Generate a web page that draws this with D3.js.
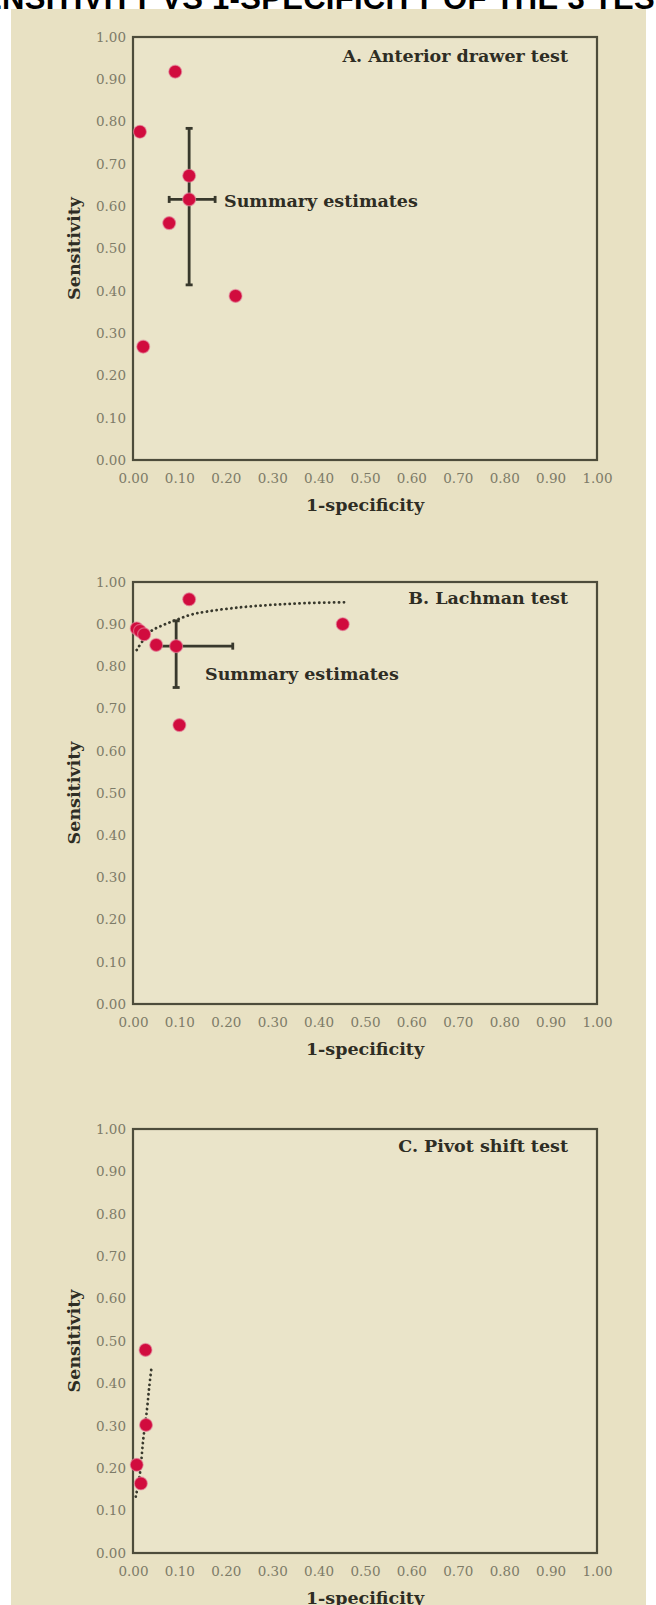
<!DOCTYPE html>
<html>
<head>
<meta charset="utf-8">
<script src="https://cdn.jsdelivr.net/npm/d3@7"></script>
<style>
  body { margin: 0; background: #fff; }
  svg { display: block; }
</style>
</head>
<body>
<div id="chart"></div>
<script>
// values
const tickValues = [0, 0.1, 0.2, 0.3, 0.4, 0.5, 0.6, 0.7, 0.8, 0.9, 1.0];

// A. Anterior drawer test
const anteriorX = [0.091, 0.015, 0.121, 0.121, 0.078, 0.221, 0.022];
const anteriorY = [0.918, 0.776, 0.672, 0.616, 0.560, 0.388, 0.268];
const anteriorSummary = [0.121, 0.616];
const anteriorSensCI = [0.414, 0.784];
const anteriorFprCI = [0.078, 0.177];

// B. Lachman test
const lachmanX = [0.121, 0.008, 0.015, 0.024, 0.050, 0.093, 0.100, 0.452];
const lachmanY = [0.959, 0.890, 0.884, 0.876, 0.851, 0.848, 0.661, 0.900];
const lachmanSummary = [0.093, 0.848];
const lachmanSensCI = [0.750, 0.908];
const lachmanFprCI = [0.045, 0.215];
const lachmanCurveX = [0.008, 0.037, 0.065, 0.093, 0.123, 0.159, 0.231, 0.302, 0.374, 0.459];
const lachmanCurveY = [0.839, 0.882, 0.898, 0.910, 0.922, 0.930, 0.940, 0.946, 0.950, 0.952];

// C. Pivot shift test
const pivotX = [0.027, 0.028, 0.008, 0.017];
const pivotY = [0.479, 0.302, 0.208, 0.164];
const pivotCurveX = [0.006, 0.015, 0.022, 0.030, 0.035, 0.040];
const pivotCurveY = [0.133, 0.188, 0.267, 0.337, 0.392, 0.439];

const COLORS = {
    bg: '#e8e1c3',
    plot: '#eae4c9',
    frame: '#4d4c3b',
    tick: '#7d7b68',
    title: '#2e2d24',
    point: '#d10c3e',
    bar: '#38382c'
};

const W = 656, H = 1605;
const left = 133, right = 597;

const panels = [
    { title: 'A. Anterior drawer test', top: 37, bottom: 460, titleDy: 19,
      xs: anteriorX, ys: anteriorY, summary: anteriorSummary,
      sensCI: anteriorSensCI, fprCI: anteriorFprCI, label: { x: 224, dy: 164 } },
    { title: 'B. Lachman test', top: 582, bottom: 1004, titleDy: 16,
      xs: lachmanX, ys: lachmanY, summary: lachmanSummary,
      sensCI: lachmanSensCI, fprCI: lachmanFprCI, label: { x: 205, dy: 92 },
      curveX: lachmanCurveX, curveY: lachmanCurveY },
    { title: 'C. Pivot shift test', top: 1129, bottom: 1553, titleDy: 17,
      xs: pivotX, ys: pivotY, curveX: pivotCurveX, curveY: pivotCurveY }
];

const svg = d3.select('#chart').append('svg')
    .attr('width', W)
    .attr('height', H);

svg.append('rect')
    .attr('x', 11).attr('y', 9)
    .attr('width', 635).attr('height', H - 9)
    .attr('fill', COLORS.bg);

// heading that the crop cuts through at the very top
const heading = 'SENSITIVITY VS 1-SPECIFICITY OF THE 3 TESTS';
const headStyle = sel => sel
    .style('font-family', '"Liberation Sans", Arial, sans-serif')
    .style('font-weight', '700')
    .style('font-size', '31px')
    .style('letter-spacing', '0.3px');
const probe = svg.append('text').call(headStyle).text('SE');
const prefixW = probe.node().getComputedTextLength();
probe.remove();
svg.append('text')
    .attr('x', 2 - prefixW)
    .attr('y', 9)
    .attr('fill', '#000')
    .call(headStyle)
    .text(heading);

const fmt = d3.format('.2f');
const serif = '"DejaVu Serif", Georgia, serif';
const boldSize = '17.5px';

function drawPanel(p) {
    const x = d3.scaleLinear().domain([0, 1]).range([left, right]);
    const y = d3.scaleLinear().domain([0, 1]).range([p.bottom, p.top]);
    const g = svg.append('g');

    g.append('rect')
        .attr('x', left).attr('y', p.top)
        .attr('width', right - left).attr('height', p.bottom - p.top)
        .attr('fill', COLORS.plot)
        .attr('stroke', COLORS.frame)
        .attr('stroke-width', 2.2);

    const xAxis = g.append('g')
        .attr('transform', `translate(0,${p.bottom})`)
        .call(d3.axisBottom(x).tickValues(tickValues).tickFormat(fmt).tickSize(0).tickPadding(13));
    const yAxis = g.append('g')
        .attr('transform', `translate(${left},0)`)
        .call(d3.axisLeft(y).tickValues(tickValues).tickFormat(fmt).tickSize(0).tickPadding(7));

    [xAxis, yAxis].forEach(a => {
        a.select('.domain').remove();
        a.selectAll('text')
            .attr('fill', COLORS.tick)
            .style('font-family', serif)
            .style('font-size', '13.5px');
    });

    // axis titles
    g.append('text')
        .attr('x', (left + right) / 2)
        .attr('y', p.bottom + 45)
        .attr('dy', '0.35em')
        .attr('text-anchor', 'middle')
        .attr('fill', COLORS.title)
        .style('font-family', serif)
        .style('font-weight', '700')
        .style('font-size', boldSize)
        .text('1-specificity');

    g.append('text')
        .attr('transform', `translate(74,${(p.top + p.bottom) / 2}) rotate(-90)`)
        .attr('text-anchor', 'middle')
        .attr('dy', '0.35em')
        .attr('fill', COLORS.title)
        .style('font-family', serif)
        .style('font-weight', '700')
        .style('font-size', boldSize)
        .text('Sensitivity');

    g.append('text')
        .attr('x', 568)
        .attr('y', p.top + p.titleDy)
        .attr('dy', '0.35em')
        .attr('text-anchor', 'end')
        .attr('fill', COLORS.title)
        .style('font-family', serif)
        .style('font-weight', '700')
        .style('font-size', boldSize)
        .text(p.title);

    // fitted curve (dotted)
    if (p.curveX) {
        const pts = p.curveX.map((v, i) => [v, p.curveY[i]]);
        const line = d3.line()
            .x(d => x(d[0]))
            .y(d => y(d[1]))
            .curve(d3.curveCatmullRom);
        g.append('path')
            .attr('d', line(pts))
            .attr('fill', 'none')
            .attr('stroke', COLORS.bar)
            .attr('stroke-width', 2.8)
            .attr('stroke-linecap', 'round')
            .attr('stroke-dasharray', '0.1,4.8');
    }

    // summary cross with confidence intervals
    if (p.summary) {
        const [sx, sy] = p.summary;
        const bar = g.append('g')
            .attr('stroke', COLORS.bar)
            .attr('stroke-width', 2.8);
        bar.append('line')
            .attr('x1', x(sx)).attr('x2', x(sx))
            .attr('y1', y(p.sensCI[0])).attr('y2', y(p.sensCI[1]));
        bar.append('line')
            .attr('x1', x(p.fprCI[0])).attr('x2', x(p.fprCI[1]))
            .attr('y1', y(sy)).attr('y2', y(sy));
        p.sensCI.forEach(v => {
            bar.append('line')
                .attr('x1', x(sx) - 3.5).attr('x2', x(sx) + 3.5)
                .attr('y1', y(v)).attr('y2', y(v));
        });
        p.fprCI.forEach(v => {
            bar.append('line')
                .attr('x1', x(v)).attr('x2', x(v))
                .attr('y1', y(sy) - 3.5).attr('y2', y(sy) + 3.5);
        });

        g.append('text')
            .attr('x', p.label.x)
            .attr('y', p.top + p.label.dy)
            .attr('dy', '0.35em')
            .attr('fill', COLORS.title)
            .style('font-family', serif)
            .style('font-weight', '700')
            .style('font-size', boldSize)
            .text('Summary estimates');
    }

    // study points
    g.selectAll('.pt')
        .data(p.xs.map((v, i) => ({ fpr: v, sens: p.ys[i] })))
        .enter()
        .append('circle')
        .attr('cx', d => x(d.fpr))
        .attr('cy', d => y(d.sens))
        .attr('r', 6.5)
        .attr('fill', COLORS.point)
        .attr('stroke', '#e58aa0')
        .attr('stroke-opacity', 0.6)
        .attr('stroke-width', 1.2);
}

panels.forEach(drawPanel);
</script>
</body>
</html>
